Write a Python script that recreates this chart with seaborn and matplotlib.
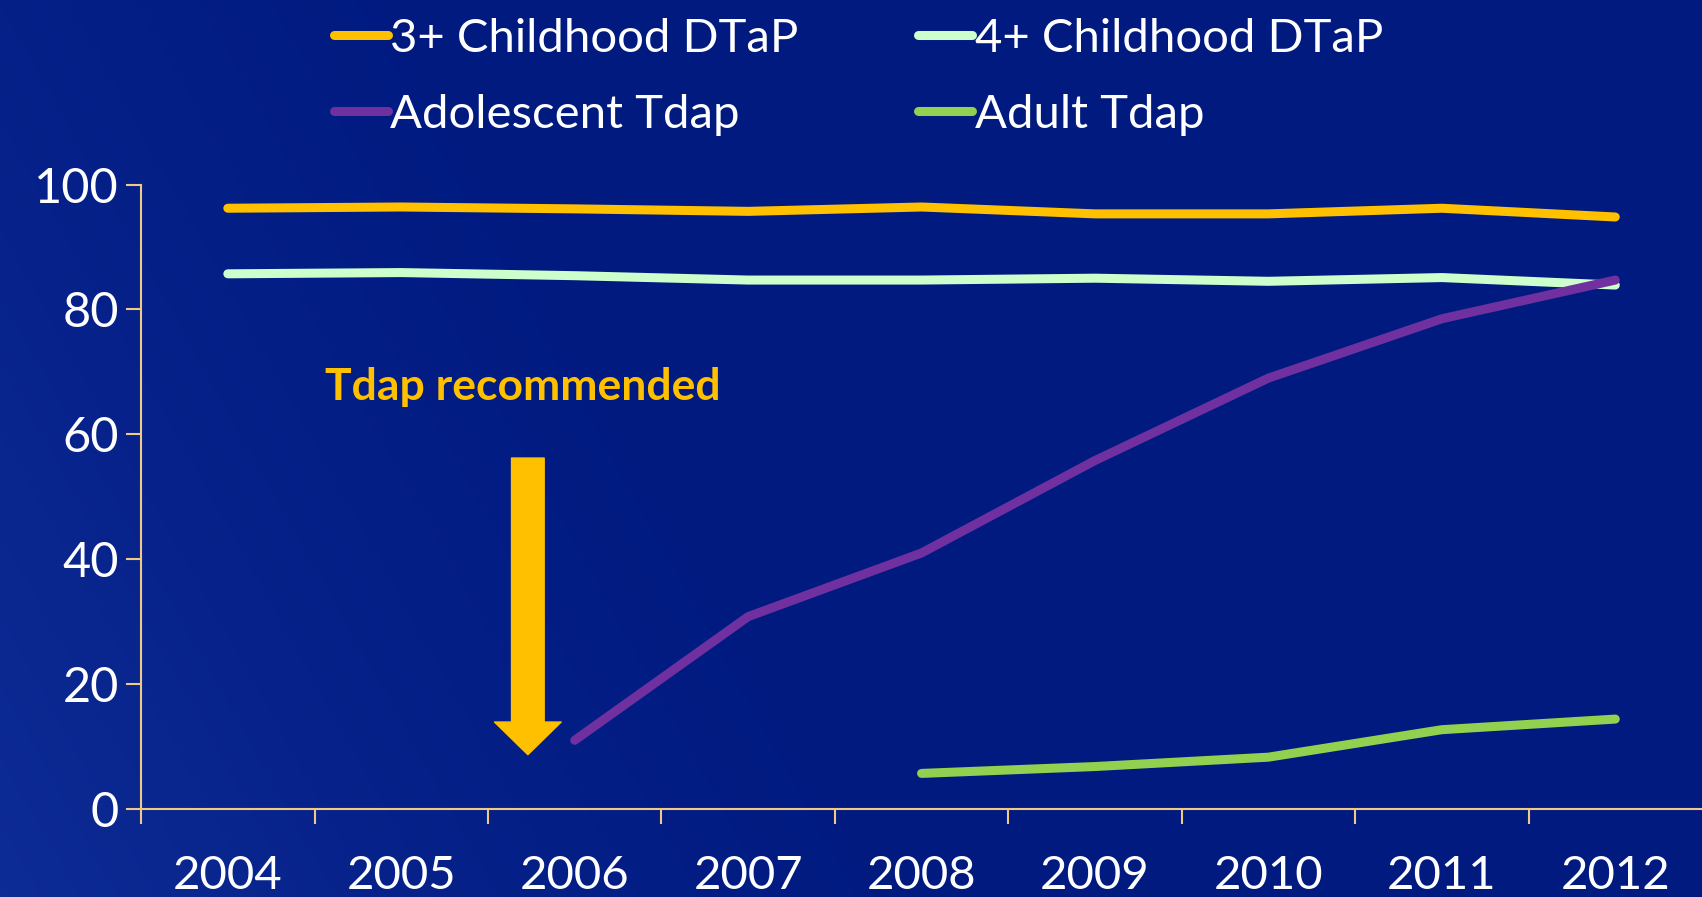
import numpy as np
import pandas as pd
import matplotlib
matplotlib.use("Agg")
import matplotlib.pyplot as plt
from matplotlib.lines import Line2D
import seaborn as sns

# values (percent vaccinated)
years = [2004, 2005, 2006, 2007, 2008, 2009, 2010, 2011, 2012]
dtap3 = [96.2, 96.4, 96.1, 95.7, 96.4, 95.3, 95.3, 96.2, 94.8]
dtap4 = [85.7, 85.9, 85.4, 84.7, 84.7, 85.0, 84.5, 85.1, 83.9]
adol_tdap = [np.nan, np.nan, 11.0, 30.8, 41.0, 55.8, 69.0, 78.5, 84.7]
adult_tdap = [np.nan, np.nan, np.nan, np.nan, 5.7, 6.8, 8.3, 12.7, 14.4]

series_names = ["3+ Childhood DTaP", "4+ Childhood DTaP", "Adolescent Tdap", "Adult Tdap"]
series_colors = ["#FFC000", "#CCFFCC", "#7030A0", "#92D050"]

df = pd.DataFrame({
    "year": years * 4,
    "pct": dtap3 + dtap4 + adol_tdap + adult_tdap,
    "series": sum([[n] * len(years) for n in series_names], []),
}).dropna()

sns.set_theme(style="white")
plt.rcParams["font.family"] = ["Lato", "DejaVu Sans"]

fig = plt.figure(figsize=(17.02, 8.97), dpi=100)

# navy slide background, a bit lighter towards the lower left
bg = fig.add_axes([0, 0, 1, 1], zorder=-10)
gx, gy = np.meshgrid(np.linspace(0, 1, 400), np.linspace(0, 1, 200))
t = np.clip(1 - (gx * 1.7 + gy * 0.5), 0, 1) ** 1.5
base = np.array([0, 26, 128]) / 255
light = np.array([14, 44, 150]) / 255
img = base + (light - base) * t[..., None]
bg.imshow(img, aspect="auto", extent=[0, 1, 0, 1], origin="lower")
bg.axis("off")

ax = fig.add_axes([0.0829, 0.0981, 0.9171, 0.6962])
ax.patch.set_alpha(0)

sns.lineplot(data=df, x="year", y="pct", hue="series", hue_order=series_names,
             palette=series_colors, linewidth=6.5, ax=ax, legend=False,
             solid_capstyle="round", clip_on=False)

ax.set_xlim(2003.5, 2012.5)
ax.set_ylim(0, 100)
ax.set_xlabel("")
ax.set_ylabel("")

axis_col = "#F0C987"
for side in ["top", "right"]:
    ax.spines[side].set_visible(False)
for side in ["left", "bottom"]:
    ax.spines[side].set_color(axis_col)
    ax.spines[side].set_linewidth(1.5)

ax.set_yticks([0, 20, 40, 60, 80, 100])
ax.set_xticks(years)
ax.set_xticklabels([str(y) for y in years])
ax.set_xticks([y - 0.5 for y in years], minor=True)
ax.tick_params(axis="y", which="major", direction="out", length=11, width=1.5,
               color=axis_col, labelcolor="white", labelsize=35, pad=5, left=True)
ax.tick_params(axis="x", which="major", length=0, labelcolor="white",
               labelsize=34, pad=33, bottom=True)
ax.tick_params(axis="x", which="minor", direction="out", length=11, width=1.5,
               color=axis_col, bottom=True)

# annotation
ax.text(2004.56, 67.5, "Tdap recommended", color="#FFC000", fontsize=32,
        fontweight="bold", va="center", ha="left")
ax.annotate("", xy=(2005.73, 8.7), xytext=(2005.73, 56.2),
            arrowprops=dict(arrowstyle="simple,head_width=4.8,head_length=2.35,tail_width=2.35",
                            color="#FFC000", shrinkA=0, shrinkB=0, mutation_scale=10))

handles = [Line2D([0], [0], color=c, lw=6.5, solid_capstyle="round") for c in series_colors]
order = [0, 2, 1, 3]
fig.legend([handles[i] for i in order], [series_names[i] for i in order],
           ncol=2, loc="upper left", bbox_to_anchor=(0.1855, 1.0), frameon=False,
           fontsize=34, labelcolor="white", handlelength=1.15, handletextpad=0.05,
           columnspacing=2.53, labelspacing=0.72, borderpad=0.0, borderaxespad=0.38)

fig.savefig("out.png", dpi=100)
